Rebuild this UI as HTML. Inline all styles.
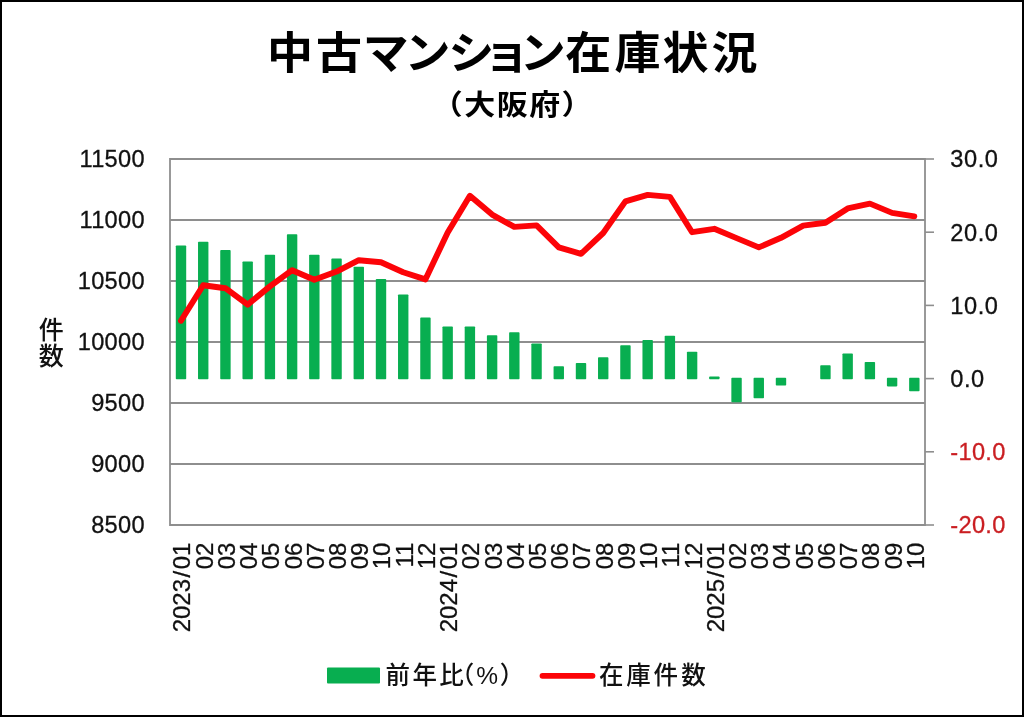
<!DOCTYPE html>
<html lang="ja"><head><meta charset="utf-8"><title>中古マンション在庫状況（大阪府）</title>
<style>
html,body{margin:0;padding:0;background:#fff;}
body{width:1024px;height:717px;overflow:hidden;}
svg{display:block;will-change:transform;}
text{font-family:"Liberation Sans", "Noto Sans CJK JP", sans-serif;}
.num{font-size:23.6px;fill:#111;letter-spacing:0.3px;stroke-width:0.3px;stroke:#111;}
.neg{fill:#ca1e22;stroke:#ca1e22;}
.xl{font-size:24px;fill:#111;stroke-width:0.3px;stroke:#111;}
.ttl{font-size:46px;font-weight:700;fill:#000;text-anchor:middle;}
.sub{font-size:31px;font-weight:700;fill:#000;text-anchor:middle;}
.jp{font-size:25px;fill:#111;font-weight:500;}
</style></head><body>
<svg width="1024" height="717" viewBox="0 0 1024 717">
<rect x="0" y="0" width="1024" height="717" fill="#ffffff"/>
<rect x="1" y="1" width="1022" height="715" fill="none" stroke="#000" stroke-width="2"/>
<g transform="translate(0,69.2) scale(1,0.962)"><text class="ttl" y="0" x="289.9 338.9 385.7 427.4 471.2 506.5 542.7 588.3 637.5 685.5 734.4">中古マンション在庫状況</text></g>
<g transform="translate(0,114.6) scale(1,0.9)"><text class="sub" y="0" x="447.3 479.8 512.2 544.7 577.0">（大阪府）</text></g>
<line x1="170.0" y1="525.00" x2="925.0" y2="525.00" stroke="#8e8e8e" stroke-width="2"/>
<line x1="170.0" y1="464.00" x2="925.0" y2="464.00" stroke="#8e8e8e" stroke-width="2"/>
<line x1="170.0" y1="403.00" x2="925.0" y2="403.00" stroke="#8e8e8e" stroke-width="2"/>
<line x1="170.0" y1="342.00" x2="925.0" y2="342.00" stroke="#8e8e8e" stroke-width="2"/>
<line x1="170.0" y1="281.00" x2="925.0" y2="281.00" stroke="#8e8e8e" stroke-width="2"/>
<line x1="170.0" y1="220.00" x2="925.0" y2="220.00" stroke="#8e8e8e" stroke-width="2"/>
<line x1="170.0" y1="159.00" x2="925.0" y2="159.00" stroke="#8e8e8e" stroke-width="2"/>
<line x1="170.0" y1="158.0" x2="170.0" y2="526.0" stroke="#8e8e8e" stroke-width="1.8"/>
<line x1="925.0" y1="158.0" x2="925.0" y2="526.0" stroke="#8e8e8e" stroke-width="1.8"/>
<line x1="925.0" y1="525.00" x2="934.0" y2="525.00" stroke="#8e8e8e" stroke-width="1.6"/>
<line x1="925.0" y1="451.80" x2="934.0" y2="451.80" stroke="#8e8e8e" stroke-width="1.6"/>
<line x1="925.0" y1="378.60" x2="934.0" y2="378.60" stroke="#8e8e8e" stroke-width="1.6"/>
<line x1="925.0" y1="305.40" x2="934.0" y2="305.40" stroke="#8e8e8e" stroke-width="1.6"/>
<line x1="925.0" y1="232.20" x2="934.0" y2="232.20" stroke="#8e8e8e" stroke-width="1.6"/>
<line x1="925.0" y1="159.00" x2="934.0" y2="159.00" stroke="#8e8e8e" stroke-width="1.6"/>
<rect x="175.80" y="245.40" width="10.40" height="133.95" rx="0.8" fill="#08ae50"/>
<rect x="198.02" y="241.80" width="10.40" height="137.55" rx="0.8" fill="#08ae50"/>
<rect x="220.24" y="250.10" width="10.40" height="129.25" rx="0.8" fill="#08ae50"/>
<rect x="242.47" y="261.50" width="10.40" height="117.85" rx="0.8" fill="#08ae50"/>
<rect x="264.69" y="254.80" width="10.40" height="124.55" rx="0.8" fill="#08ae50"/>
<rect x="286.91" y="234.20" width="10.40" height="145.15" rx="0.8" fill="#08ae50"/>
<rect x="309.13" y="254.80" width="10.40" height="124.55" rx="0.8" fill="#08ae50"/>
<rect x="331.35" y="258.60" width="10.40" height="120.75" rx="0.8" fill="#08ae50"/>
<rect x="353.58" y="266.80" width="10.40" height="112.55" rx="0.8" fill="#08ae50"/>
<rect x="375.80" y="279.00" width="10.40" height="100.35" rx="0.8" fill="#08ae50"/>
<rect x="398.02" y="294.50" width="10.40" height="84.85" rx="0.8" fill="#08ae50"/>
<rect x="420.24" y="317.60" width="10.40" height="61.75" rx="0.8" fill="#08ae50"/>
<rect x="442.46" y="326.40" width="10.40" height="52.95" rx="0.8" fill="#08ae50"/>
<rect x="464.69" y="326.40" width="10.40" height="52.95" rx="0.8" fill="#08ae50"/>
<rect x="486.91" y="335.20" width="10.40" height="44.15" rx="0.8" fill="#08ae50"/>
<rect x="509.13" y="332.30" width="10.40" height="47.05" rx="0.8" fill="#08ae50"/>
<rect x="531.35" y="343.40" width="10.40" height="35.95" rx="0.8" fill="#08ae50"/>
<rect x="553.57" y="366.20" width="10.40" height="13.15" rx="0.8" fill="#08ae50"/>
<rect x="575.80" y="363.00" width="10.40" height="16.35" rx="0.8" fill="#08ae50"/>
<rect x="598.02" y="357.20" width="10.40" height="22.15" rx="0.8" fill="#08ae50"/>
<rect x="620.24" y="345.30" width="10.40" height="34.05" rx="0.8" fill="#08ae50"/>
<rect x="642.46" y="339.90" width="10.40" height="39.45" rx="0.8" fill="#08ae50"/>
<rect x="664.68" y="335.70" width="10.40" height="43.65" rx="0.8" fill="#08ae50"/>
<rect x="686.91" y="351.70" width="10.40" height="27.65" rx="0.8" fill="#08ae50"/>
<rect x="709.13" y="376.50" width="10.40" height="2.85" rx="0.8" fill="#08ae50"/>
<rect x="731.35" y="377.85" width="10.40" height="24.35" rx="0.8" fill="#08ae50"/>
<rect x="753.57" y="377.85" width="10.40" height="20.45" rx="0.8" fill="#08ae50"/>
<rect x="775.79" y="377.85" width="10.40" height="7.65" rx="0.8" fill="#08ae50"/>
<rect x="820.24" y="365.20" width="10.40" height="14.15" rx="0.8" fill="#08ae50"/>
<rect x="842.46" y="353.40" width="10.40" height="25.95" rx="0.8" fill="#08ae50"/>
<rect x="864.68" y="362.00" width="10.40" height="17.35" rx="0.8" fill="#08ae50"/>
<rect x="886.90" y="377.85" width="10.40" height="8.55" rx="0.8" fill="#08ae50"/>
<rect x="909.13" y="377.85" width="10.40" height="13.35" rx="0.8" fill="#08ae50"/>
<polyline points="181.0,320.7 203.2,285.3 225.4,288.2 247.7,304.6 269.9,286.4 292.1,270.2 314.3,279.8 336.6,271.6 358.8,260.2 381.0,262.3 403.2,272.2 425.4,279.4 447.7,232.5 469.9,195.8 492.1,214.6 514.3,226.9 536.6,225.4 558.8,247.4 581.0,253.8 603.2,233.0 625.4,201.4 647.7,194.9 669.9,196.9 692.1,232.2 714.3,228.8 736.6,238.1 758.8,247.4 781.0,237.8 803.2,225.6 825.4,222.7 847.7,208.4 869.9,203.6 892.1,212.9 914.3,216.3" fill="none" stroke="#fc0408" stroke-width="5.9" stroke-linejoin="round" stroke-linecap="round"/>
<text class="num" x="144.9" y="533.40" text-anchor="end">8500</text>
<text class="num" x="144.9" y="472.40" text-anchor="end">9000</text>
<text class="num" x="144.9" y="411.40" text-anchor="end">9500</text>
<text class="num" x="144.9" y="350.40" text-anchor="end">10000</text>
<text class="num" x="144.9" y="289.40" text-anchor="end">10500</text>
<text class="num" x="144.9" y="228.40" text-anchor="end">11000</text>
<text class="num" x="144.9" y="167.40" text-anchor="end">11500</text>
<text class="num neg" x="950.3" y="533.40" style="letter-spacing:0.30px">-20.0</text>
<text class="num neg" x="950.3" y="460.20" style="letter-spacing:0.30px">-10.0</text>
<text class="num" x="950.3" y="387.00" style="letter-spacing:0.55px">0.0</text>
<text class="num" x="950.3" y="313.80" style="letter-spacing:0.55px">10.0</text>
<text class="num" x="950.3" y="240.60" style="letter-spacing:0.55px">20.0</text>
<text class="num" x="950.3" y="167.40" style="letter-spacing:0.55px">30.0</text>
<text class="xl" text-anchor="end" transform="translate(181.80,542.6) rotate(-90)" dy="8.6">2023<tspan dx="1.5">/</tspan><tspan dx="1.5">01</tspan></text>
<text class="xl" text-anchor="end" transform="translate(204.02,542.6) rotate(-90)" dy="8.6">02</text>
<text class="xl" text-anchor="end" transform="translate(226.24,542.6) rotate(-90)" dy="8.6">03</text>
<text class="xl" text-anchor="end" transform="translate(248.47,542.6) rotate(-90)" dy="8.6">04</text>
<text class="xl" text-anchor="end" transform="translate(270.69,542.6) rotate(-90)" dy="8.6">05</text>
<text class="xl" text-anchor="end" transform="translate(292.91,542.6) rotate(-90)" dy="8.6">06</text>
<text class="xl" text-anchor="end" transform="translate(315.13,542.6) rotate(-90)" dy="8.6">07</text>
<text class="xl" text-anchor="end" transform="translate(337.35,542.6) rotate(-90)" dy="8.6">08</text>
<text class="xl" text-anchor="end" transform="translate(359.58,542.6) rotate(-90)" dy="8.6">09</text>
<text class="xl" text-anchor="end" transform="translate(381.80,542.6) rotate(-90)" dy="8.6">10</text>
<text class="xl" text-anchor="end" transform="translate(404.02,542.6) rotate(-90)" dy="8.6">11</text>
<text class="xl" text-anchor="end" transform="translate(426.24,542.6) rotate(-90)" dy="8.6">12</text>
<text class="xl" text-anchor="end" transform="translate(448.46,542.6) rotate(-90)" dy="8.6">2024<tspan dx="1.5">/</tspan><tspan dx="1.5">01</tspan></text>
<text class="xl" text-anchor="end" transform="translate(470.69,542.6) rotate(-90)" dy="8.6">02</text>
<text class="xl" text-anchor="end" transform="translate(492.91,542.6) rotate(-90)" dy="8.6">03</text>
<text class="xl" text-anchor="end" transform="translate(515.13,542.6) rotate(-90)" dy="8.6">04</text>
<text class="xl" text-anchor="end" transform="translate(537.35,542.6) rotate(-90)" dy="8.6">05</text>
<text class="xl" text-anchor="end" transform="translate(559.57,542.6) rotate(-90)" dy="8.6">06</text>
<text class="xl" text-anchor="end" transform="translate(581.80,542.6) rotate(-90)" dy="8.6">07</text>
<text class="xl" text-anchor="end" transform="translate(604.02,542.6) rotate(-90)" dy="8.6">08</text>
<text class="xl" text-anchor="end" transform="translate(626.24,542.6) rotate(-90)" dy="8.6">09</text>
<text class="xl" text-anchor="end" transform="translate(648.46,542.6) rotate(-90)" dy="8.6">10</text>
<text class="xl" text-anchor="end" transform="translate(670.68,542.6) rotate(-90)" dy="8.6">11</text>
<text class="xl" text-anchor="end" transform="translate(692.91,542.6) rotate(-90)" dy="8.6">12</text>
<text class="xl" text-anchor="end" transform="translate(715.13,542.6) rotate(-90)" dy="8.6">2025<tspan dx="1.5">/</tspan><tspan dx="1.5">01</tspan></text>
<text class="xl" text-anchor="end" transform="translate(737.35,542.6) rotate(-90)" dy="8.6">02</text>
<text class="xl" text-anchor="end" transform="translate(759.57,542.6) rotate(-90)" dy="8.6">03</text>
<text class="xl" text-anchor="end" transform="translate(781.79,542.6) rotate(-90)" dy="8.6">04</text>
<text class="xl" text-anchor="end" transform="translate(804.02,542.6) rotate(-90)" dy="8.6">05</text>
<text class="xl" text-anchor="end" transform="translate(826.24,542.6) rotate(-90)" dy="8.6">06</text>
<text class="xl" text-anchor="end" transform="translate(848.46,542.6) rotate(-90)" dy="8.6">07</text>
<text class="xl" text-anchor="end" transform="translate(870.68,542.6) rotate(-90)" dy="8.6">08</text>
<text class="xl" text-anchor="end" transform="translate(892.90,542.6) rotate(-90)" dy="8.6">09</text>
<text class="xl" text-anchor="end" transform="translate(915.13,542.6) rotate(-90)" dy="8.6">10</text>
<text class="jp" text-anchor="middle" x="51.3" y="338.6">件</text>
<text class="jp" text-anchor="middle" x="51.3" y="364.8">数</text>
<rect x="327" y="667.5" width="53" height="16" rx="1" fill="#08ae50"/>
<text class="jp" y="683.5" x="397.8 424.7 451.4 462 487.2 512" text-anchor="middle" style="font-size:24.5px">前年比（%）</text>
<line x1="542.5" y1="675.8" x2="592.5" y2="675.8" stroke="#fc0408" stroke-width="5.8" stroke-linecap="round"/>
<text class="jp" y="683.5" x="611.2 638.5 665.8 693.5" text-anchor="middle" style="font-size:24.5px">在庫件数</text>
</svg></body></html>
